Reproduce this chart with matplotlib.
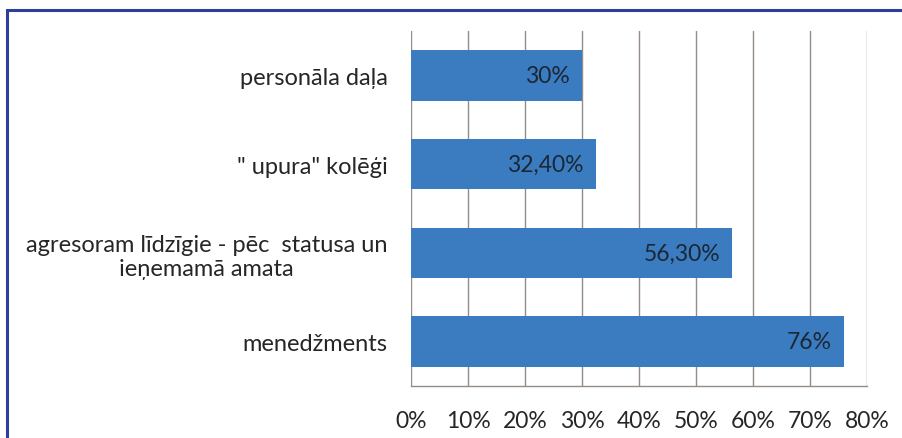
import matplotlib
matplotlib.use("Agg")
import matplotlib.pyplot as plt
from matplotlib.patches import Rectangle

categories = ["menedžments",
              "agresoram līdzīgie - pēc  statusa un\nieņemamā amata",
              "\" upura\" kolēģi",
              "personāla daļa"]
values = [76, 56.3, 32.4, 30]
value_labels = ["76%", "56,30%", "32,40%", "30%"]
xticks = [0, 10, 20, 30, 40, 50, 60, 70, 80]
xtick_labels = ["0%", "10%", "20%", "30%", "40%", "50%", "60%", "70%", "80%"]

plt.rcParams['font.family'] = ['Lato', 'DejaVu Sans']

W, H = 902, 439
fig = plt.figure(figsize=(W/100, H/100), dpi=100)
fig.patch.set_facecolor("white")

# frame border
fig.patches.append(Rectangle((7/W, -0.05), 1.05, 1 - 11/H + 0.05, transform=fig.transFigure,
                             fill=False, edgecolor="#2e3f9b", linewidth=2.2))

ax = fig.add_axes([411/W, 1 - 387/H, (867-411)/W, (387-32)/H])
ypos = list(range(len(categories)))
ax.barh(ypos, values, height=0.57, color="#3a7cbf", zorder=3)
ax.set_xlim(0, 80)
ax.set_ylim(-0.5, 3.5)
ax.set_xticks(xticks)
ax.set_xticklabels(xtick_labels, fontsize=16.5, color="#262626")
ax.set_yticks(ypos)
ax.set_yticklabels(categories, fontsize=17, color="#262626", multialignment="center",
                   linespacing=1.2)
ax.tick_params(axis="both", length=0)
ax.tick_params(axis="x", pad=17)
ax.tick_params(axis="y", pad=17)
ax.grid(axis="x", color="#948c86", linewidth=1, zorder=0)
for s in ["top", "right", "left"]:
    ax.spines[s].set_visible(False)
ax.spines["bottom"].set_color("#948c86")
ax.spines["bottom"].set_linewidth(1)

for y, v, lab in zip(ypos, values, value_labels):
    ax.text(v - 2.1, y, lab, ha="right", va="center", fontsize=16.5, color="#1c2735", zorder=4)

fig.savefig("out.png", dpi=100)
